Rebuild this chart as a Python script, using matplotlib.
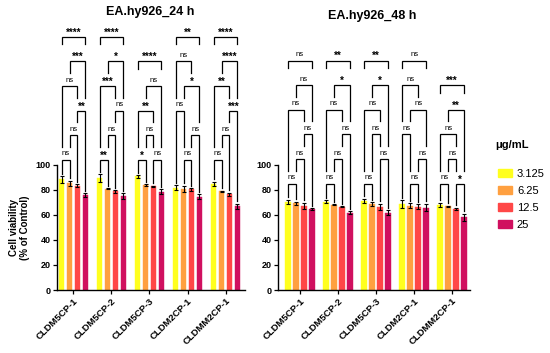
import numpy as np
import matplotlib
matplotlib.use("Agg")
import matplotlib.pyplot as plt
from matplotlib.patches import Patch

plt.rcParams['font.family'] = ['Liberation Sans', 'DejaVu Sans']

# ---------------------------
# Data
# ---------------------------
groups = ["CLDM5CP-1", "CLDM5CP-2", "CLDM5CP-3", "CLDM2CP-1", "CLDMM2CP-1"]
doses = ["3.125", "6.25", "12.5", "25"]
colors = ["#FFFF1E", "#FFA040", "#FF4747", "#D0105F"]

# 24 h: mean and SD per dose, one value per compound
mean_24 = [[88.5, 89.5, 91.0, 82.0, 85.0],
           [85.5, 81.0, 84.0, 81.0, 79.0],
           [83.5, 79.0, 83.0, 80.5, 76.5],
           [76.0, 75.0, 78.5, 74.5, 67.0]]
sd_24 = [[2.5, 3.0, 1.0, 2.0, 1.8],
         [2.0, 0.5, 0.8, 2.5, 0.4],
         [1.3, 1.0, 0.5, 1.0, 1.2],
         [1.5, 2.5, 2.0, 2.0, 2.0]]

# 48 h
mean_48 = [[70.7, 70.7, 71.2, 69.0, 68.3],
           [69.3, 68.3, 68.8, 67.5, 67.0],
           [67.5, 66.7, 66.7, 66.7, 65.0],
           [64.8, 61.9, 61.9, 65.9, 58.1]]
sd_48 = [[1.5, 1.3, 1.8, 3.0, 1.5],
         [1.5, 0.5, 1.5, 1.8, 0.5],
         [2.5, 0.4, 2.5, 2.0, 1.0],
         [0.5, 1.0, 2.0, 3.0, 3.0]]

# significance, in the order 1-2, 2-3, 3-4, 1-3, 2-4, 1-4
pair_order = [(0, 1), (1, 2), (2, 3), (0, 2), (1, 3), (0, 3)]
sig_24 = [["ns", "ns", "**", "ns", "***", "****"],
          ["**", "ns", "ns", "***", "*", "****"],
          ["*", "ns", "ns", "**", "ns", "****"],
          ["ns", "ns", "ns", "ns", "*", "**"],
          ["ns", "ns", "***", "**", "****", "****"]]
sig_48 = [["ns", "ns", "ns", "ns", "ns", "ns"],
          ["ns", "ns", "ns", "ns", "*", "**"],
          ["ns", "ns", "ns", "ns", "*", "**"],
          ["ns", "ns", "ns", "ns", "ns", "ns"],
          ["ns", "ns", "*", "ns", "**", "***"]]

# ---------------------------
# Bracket stacking (bottom level first)
# ---------------------------
std = [[(0, 1)], [(1, 2)], [(2, 3)], [(0, 2)], [(1, 3)], [(0, 3)]]
split = [[(0, 1), (2, 3)], [(1, 2)], [(0, 2)], [(1, 3)], [(0, 3)]]
mid = [[(1, 2)], [(2, 3)], [(0, 1)], [(1, 3)], [(0, 2)], [(0, 3)]]
swap = [[(0, 1)], [(2, 3)], [(1, 2)], [(0, 2)], [(1, 3)], [(0, 3)]]
layout_24 = [std, std, split, mid, std]
layout_48 = [std, std, swap, mid, split]

offsets = np.array([-1.5, -0.5, 0.5, 1.5]) * 0.21
bar_w = 0.14
W, H = 550, 353
PX = 1 / 38.0          # one pixel in x data units (38 px per group)


def text_half(lab):
    w = 8 if lab == "ns" else 4.5 * len(lab)
    return (w / 2 + 1) * PX


def leg_end(xs, b, lv, flat, tops_g):
    # walk down from level lv at bar b until something is in the way
    for lv2, i2, j2, lab2, y2 in sorted(flat, key=lambda r: -r[0]):
        if lv2 >= lv:
            continue
        xc = (xs[i2] + xs[j2]) / 2
        if abs(xs[b] - xc) <= text_half(lab2) or i2 <= b <= j2:
            return y2 + 10.5
    return tops_g[b] + 2


def draw_panel(ax, means, sds, sigs, layouts, base, xlim):
    x = np.arange(len(groups))
    for k in range(len(doses)):
        ax.bar(x + offsets[k], means[k], width=bar_w, color=colors[k],
               edgecolor=colors[k], linewidth=0.3, zorder=2)
        ax.errorbar(x + offsets[k], means[k], yerr=sds[k], fmt='none',
                    ecolor='black', elinewidth=0.8, capsize=1.3,
                    capthick=0.8, zorder=3)

    tops = np.array(means) + np.array(sds)
    step = 19.7
    for g in range(len(groups)):
        xs = g + offsets
        flat = []
        for lv, pairs in enumerate(layouts[g]):
            for (i, j) in pairs:
                lab = sigs[g][pair_order.index((i, j))]
                flat.append((lv, i, j, lab, base + step * lv))
        for lv, i, j, lab, y in flat:
            if (i, j) == (0, 3):
                yl = yr = y - 6
            else:
                yl = min(leg_end(xs, i, lv, flat, tops[:, g]), y - 4)
                yr = min(leg_end(xs, j, lv, flat, tops[:, g]), y - 4)
            ax.plot([xs[i], xs[i], xs[j], xs[j]], [yl, y, y, yr],
                    color='black', lw=0.9, clip_on=False,
                    solid_joinstyle='miter', zorder=4)
            if lab == "ns":
                ax.text((xs[i] + xs[j]) / 2, y + 2.0, lab, ha='center',
                        va='bottom', fontsize=5.5, clip_on=False)
            else:
                ax.text((xs[i] + xs[j]) / 2, y - 0.5, lab, ha='center',
                        va='bottom', fontsize=7, fontweight='bold',
                        clip_on=False)

    ax.set_xlim(*xlim)
    ax.set_ylim(0, 100)
    ax.set_yticks([0, 20, 40, 60, 80, 100])
    ax.set_xticks(x)
    ax.set_xticklabels(groups, rotation=45, ha='right',
                       rotation_mode='anchor', fontsize=6.8, fontweight='bold')
    for t in ax.get_yticklabels():
        t.set_fontsize(6.5)
        t.set_fontweight('bold')
    ax.tick_params(axis='both', length=3, width=0.9, pad=1.5)
    ax.spines['top'].set_visible(False)
    ax.spines['right'].set_visible(False)
    ax.spines['left'].set_linewidth(1.0)
    ax.spines['bottom'].set_linewidth(1.0)


fig = plt.figure(figsize=(W / 100, H / 100), dpi=100)
ax1 = fig.add_axes([57 / W, 1 - 290 / H, 188 / W, 125 / H])
ax2 = fig.add_axes([278 / W, 1 - 290 / H, 192 / W, 125 / H])

draw_panel(ax1, mean_24, sd_24, sig_24, layout_24, 104, (-0.434, 4.513))
draw_panel(ax2, mean_48, sd_48, sig_48, layout_48, 85, (-0.579, 4.47))

ax1.set_ylabel("Cell viability\n(% of Control)", fontsize=7, fontweight='bold',
               labelpad=4, linespacing=1.1)

fig.text(150 / W, 1 - 12 / H, "EA.hy926_24 h", ha='center', va='center',
         fontsize=9, fontweight='bold')
fig.text(372 / W, 1 - 16 / H, "EA.hy926_48 h", ha='center', va='center',
         fontsize=9, fontweight='bold')

# ---------------------------
# Legend
# ---------------------------
fig.text(495 / W, 1 - 145 / H, "μg/mL", ha='left', va='center',
         fontsize=8, fontweight='bold')
handles = [Patch(facecolor=c, edgecolor=c) for c in colors]
fig.legend(handles, doses, loc='upper left',
           bbox_to_anchor=(498 / W, 1 - 169 / H), frameon=False,
           fontsize=8, borderpad=0, borderaxespad=0,
           handlelength=1.25, handleheight=0.75, handletextpad=0.45,
           labelspacing=0.62)

plt.savefig("out.png", dpi=100)
